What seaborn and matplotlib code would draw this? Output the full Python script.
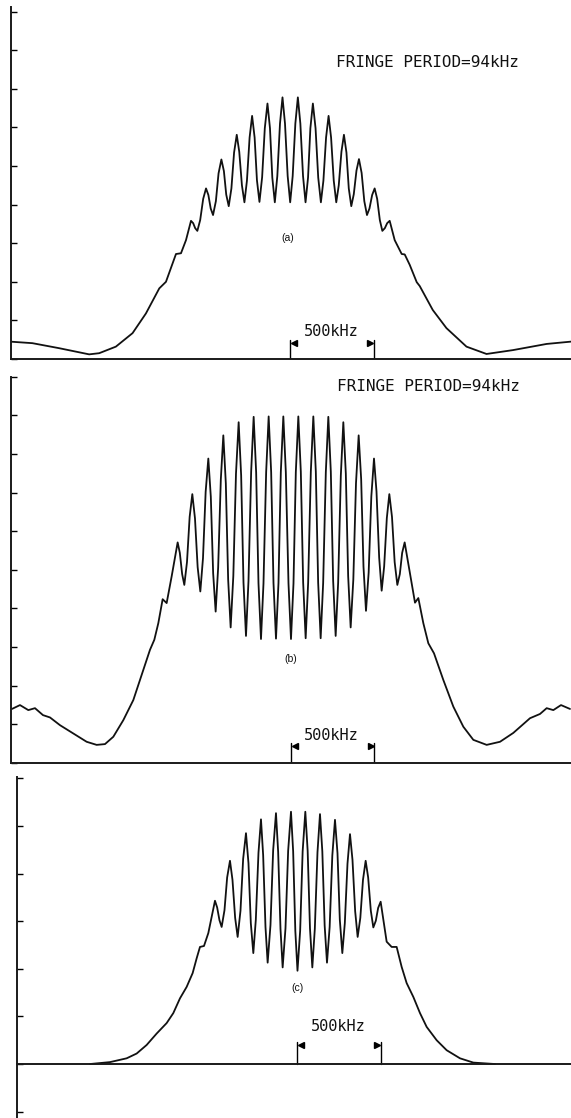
import numpy as np
import pandas as pd
import matplotlib
matplotlib.use("Agg")
import matplotlib.pyplot as plt
import seaborn as sns

# offset from fringe centre (kHz) and detected level (arb. units)
a_khz = [-1678, -1544, -1384, -1204, -1144, -1044, -944, -864, -784, -744, -704, -684, -654, -624,
         -594, -581, -569, -556, -539, -521, -504, -490, -476, -462, -445, -429, -412, -397, -383,
         -368, -352, -336, -320, -305, -289, -274, -259, -243, -228, -213, -199, -184, -168, -152,
         -136, -121, -107, -92, -77, -61, -46, -31, -15, 0, 15, 31, 46, 61, 77, 92, 107, 121,
         136, 152, 168, 184, 199, 215, 230, 245, 261, 276, 291, 307, 322, 337, 351, 366, 381,
         397, 412, 428, 444, 460, 475, 491, 506, 521, 537, 552, 567, 581, 596,
         626, 668, 686, 716, 758, 776, 854, 936, 1056, 1176, 1334, 1536, 1682]
a_level = [0.45, 0.41, 0.28, 0.12, 0.15, 0.32, 0.67, 1.18, 1.83, 2.00, 2.48, 2.72, 2.74, 3.08,
           3.58, 3.52, 3.39, 3.32, 3.60, 4.15, 4.42, 4.25, 3.90, 3.73, 4.09, 4.81, 5.17, 4.87, 4.26,
           3.96, 4.42, 5.35, 5.81, 5.37, 4.50, 4.06, 4.62, 5.74, 6.30, 5.74, 4.63, 4.07, 4.71, 5.98,
           6.62, 5.98, 4.70, 4.06, 4.74, 6.10, 6.78, 6.10, 4.74, 4.06, 4.74, 6.10, 6.78, 6.10, 4.74, 4.06, 4.70, 5.98,
           6.62, 5.98, 4.70, 4.06, 4.62, 5.74, 6.30, 5.74, 4.62, 4.06, 4.50, 5.37, 5.81, 5.35, 4.42, 3.96, 4.27,
           4.88, 5.18, 4.82, 4.09, 3.73, 3.90, 4.25, 4.42, 4.15, 3.60, 3.32, 3.39, 3.52, 3.58,
           3.08, 2.72, 2.71, 2.44, 1.99, 1.89, 1.27, 0.80, 0.32, 0.13, 0.23, 0.39, 0.45]

b_khz = [-1674, -1626, -1576, -1536, -1488, -1446, -1386, -1308, -1226, -1166, -1116, -1066, -1006,
         -946, -886, -846, -820, -796, -770, -746, -716,
         -680, -667, -653, -640, -624, -608, -592, -576, -560, -544, -528, -512, -496, -481, -467,
         -452, -437, -421, -406, -391, -377, -362, -346, -330, -314, -299, -285, -270, -255, -239,
         -224, -209, -195, -180, -165, -149, -134, -119, -105, -90, -75, -61, -46, -31, -15, 0,
         15, 29, 44, 59, 73, 88, 103, 119, 134, 149, 163, 178, 193, 209, 224, 239, 253, 268,
         283, 299, 314, 329, 343, 358, 374, 390, 406, 421, 435, 450, 466, 482, 498, 513, 529,
         544, 559, 575, 590, 606, 622, 638, 653, 667, 682,
         744, 764, 794, 824, 858, 914, 974, 1034, 1094, 1174, 1254, 1334, 1434, 1494, 1534, 1574, 1620, 1674]
b_level = [1.40, 1.50, 1.37, 1.42, 1.24, 1.18, 0.98, 0.77, 0.55, 0.47, 0.49, 0.68, 1.11,
           1.63, 2.41, 2.93, 3.19, 3.62, 4.24, 4.14, 4.83,
           5.71, 5.44, 4.89, 4.61, 5.20, 6.37, 6.96, 6.33, 5.07, 4.44, 5.30, 7.02, 7.88, 6.89, 4.91,
           3.92, 5.06, 7.34, 8.48, 7.24, 4.75, 3.51, 4.84, 7.49, 8.82, 7.44, 4.67, 3.29, 4.71, 7.54,
           8.96, 7.52, 4.65, 3.21, 4.65, 7.53, 8.97, 7.53, 4.66, 3.22, 4.66, 7.53, 8.97, 7.53, 4.65, 3.21,
           4.65, 7.53, 8.97, 7.54, 4.67, 3.23, 4.67, 7.54, 8.97, 7.54, 4.67, 3.23, 4.66, 7.53, 8.96, 7.54, 4.71, 3.29,
           4.67, 7.44, 8.82, 7.49, 4.84, 3.51, 4.75, 7.24, 8.48, 7.35, 5.08, 3.94, 4.93, 6.90, 7.88, 7.03, 5.32,
           4.46, 5.09, 6.34, 6.96, 6.37, 5.20, 4.61, 4.89, 5.44, 5.71,
           4.15, 4.27, 3.62, 3.10, 2.84, 2.15, 1.46, 0.94, 0.60, 0.47, 0.55, 0.78, 1.16, 1.27, 1.42, 1.37, 1.50, 1.40]

c_khz = [-1245, -1125, -1025, -965, -905, -845, -785, -745, -705, -665, -629, -605, -585, -561, -535,
         -495, -482, -468, -455, -438, -422, -405, -390, -374, -359, -342, -326, -309, -294, -280,
         -265, -250, -234, -219, -206, -192, -179, -162, -146, -129, -116, -102, -89, -72, -56,
         -39, -26, -13, 0, 16, 31, 47, 61, 75, 89, 104, 120, 135, 149, 163, 177, 193, 209, 225,
         240, 254, 269, 284, 300, 315, 330, 346, 361, 377, 393, 409, 424, 440, 455, 470, 484, 499,
         535, 565, 595, 625, 655, 695, 735, 775, 835, 895, 975, 1055, 1185]
c_level = [0.00, 0.04, 0.12, 0.22, 0.40, 0.64, 0.86, 1.07, 1.38, 1.62, 1.91, 2.22, 2.46, 2.48, 2.75,
           3.43, 3.29, 3.02, 2.88, 3.23, 3.92, 4.27, 3.87, 3.07, 2.67, 3.22, 4.31, 4.85, 4.22, 2.96,
           2.33, 3.03, 4.44, 5.14, 4.39, 2.88, 2.13, 2.92, 4.49, 5.27, 4.46, 2.84, 2.03, 2.85, 4.48,
           5.30, 4.47, 2.80, 1.96, 2.80, 4.47, 5.30, 4.48, 2.85, 2.03, 2.84, 4.45, 5.25, 4.47, 2.91, 2.13, 2.88, 4.38, 5.13,
           4.43, 3.03, 2.33, 2.96, 4.21, 4.83, 4.29, 3.21, 2.67, 3.07, 3.87, 4.27, 3.92, 3.22, 2.87, 3.01, 3.28, 3.41,
           2.57, 2.46, 2.46, 2.04, 1.70, 1.41, 1.07, 0.78, 0.50, 0.29, 0.12, 0.03, 0.00]

panel_tags = ["(a)", "(b)", "(c)"]
fringe_note = "FRINGE PERIOD=94kHz"
span_khz = 500
span_text = "500kHz"

sns.set_style("ticks")
plt.rcParams["font.family"] = ["DejaVu Sans"]

fig = plt.figure(figsize=(5.71, 11.18), dpi=100)

# axes rect, xlim, ylim, yticks, tag pos, note pos, bracket height, label y, px per unit
panels = [
    dict(x=a_khz, y=a_level, rect=[0.0193, 0.6789, 0.9807, 0.3148], xlim=(-1672, 1682),
         ylim=(0, 9.12), yt=range(0, 10), tag=(-16, 3.13), note=(823, 7.69), bh=0.49, ty=0.71, ppu=38.6),
    dict(x=b_khz, y=b_level, rect=[0.0201, 0.3175, 0.9799, 0.3456], xlim=(-1677, 1680),
         ylim=(0, 10.0), yt=range(0, 11), tag=(0, 2.69), note=(824, 9.75), bh=0.52, ty=0.71, ppu=38.6),
    dict(x=c_khz, y=c_level, rect=[0.0303, 0.0, 0.9697, 0.3050], xlim=(-1681, 1641),
         ylim=(-1.134, 6.03), yt=range(-1, 7), tag=(0, 1.59), note=None, bh=0.47, ty=0.78, ppu=47.6),
]

for i, p in enumerate(panels):
    ax = fig.add_axes(p["rect"])
    df = pd.DataFrame({"khz": p["x"], "level": p["y"]})
    sns.lineplot(data=df, x="khz", y="level", ax=ax, color="#111111", linewidth=1.3,
                 estimator=None, sort=False)
    ax.set_xlim(*p["xlim"])
    ax.set_ylim(*p["ylim"])
    ax.set_xlabel("")
    ax.set_ylabel("")
    ax.set_xticks([])
    ax.set_yticks(list(p["yt"]))
    ax.tick_params(axis="y", direction="in", length=4, width=1, labelleft=False, color="black")
    sns.despine(ax=ax, top=True, right=True)
    for s in ["left", "bottom"]:
        ax.spines[s].set_linewidth(1.4)
        ax.spines[s].set_color("#1a1a1a")
    if p["ylim"][0] < 0:
        ax.spines["bottom"].set_position(("data", 0))
    ax.patch.set_alpha(0)

    # 500 kHz scale bracket
    bh = p["bh"]
    ax.plot([0, 0], [0, bh], color="black", lw=1.0)
    ax.plot([span_khz, span_khz], [0, bh], color="black", lw=1.0)
    dy = 3.0 / p["ppu"]
    ax.plot([22], [bh - dy], marker="<", color="black", markersize=5, linestyle="none")
    ax.plot([span_khz - 22], [bh - dy], marker=">", color="black", markersize=5, linestyle="none")
    ax.text(span_khz / 2 - 6, p["ty"], span_text, ha="center", va="center",
            family="DejaVu Sans Mono", fontsize=11, color="#111111")

    ax.text(p["tag"][0], p["tag"][1], panel_tags[i], ha="center", va="center",
            family="Liberation Sans", fontsize=7.5, color="#111111")
    if p["note"] is not None:
        ax.text(p["note"][0], p["note"][1], fringe_note, ha="center", va="center",
                family="DejaVu Sans Mono", fontsize=11.5, color="#111111")

fig.savefig("out.png", dpi=100)
